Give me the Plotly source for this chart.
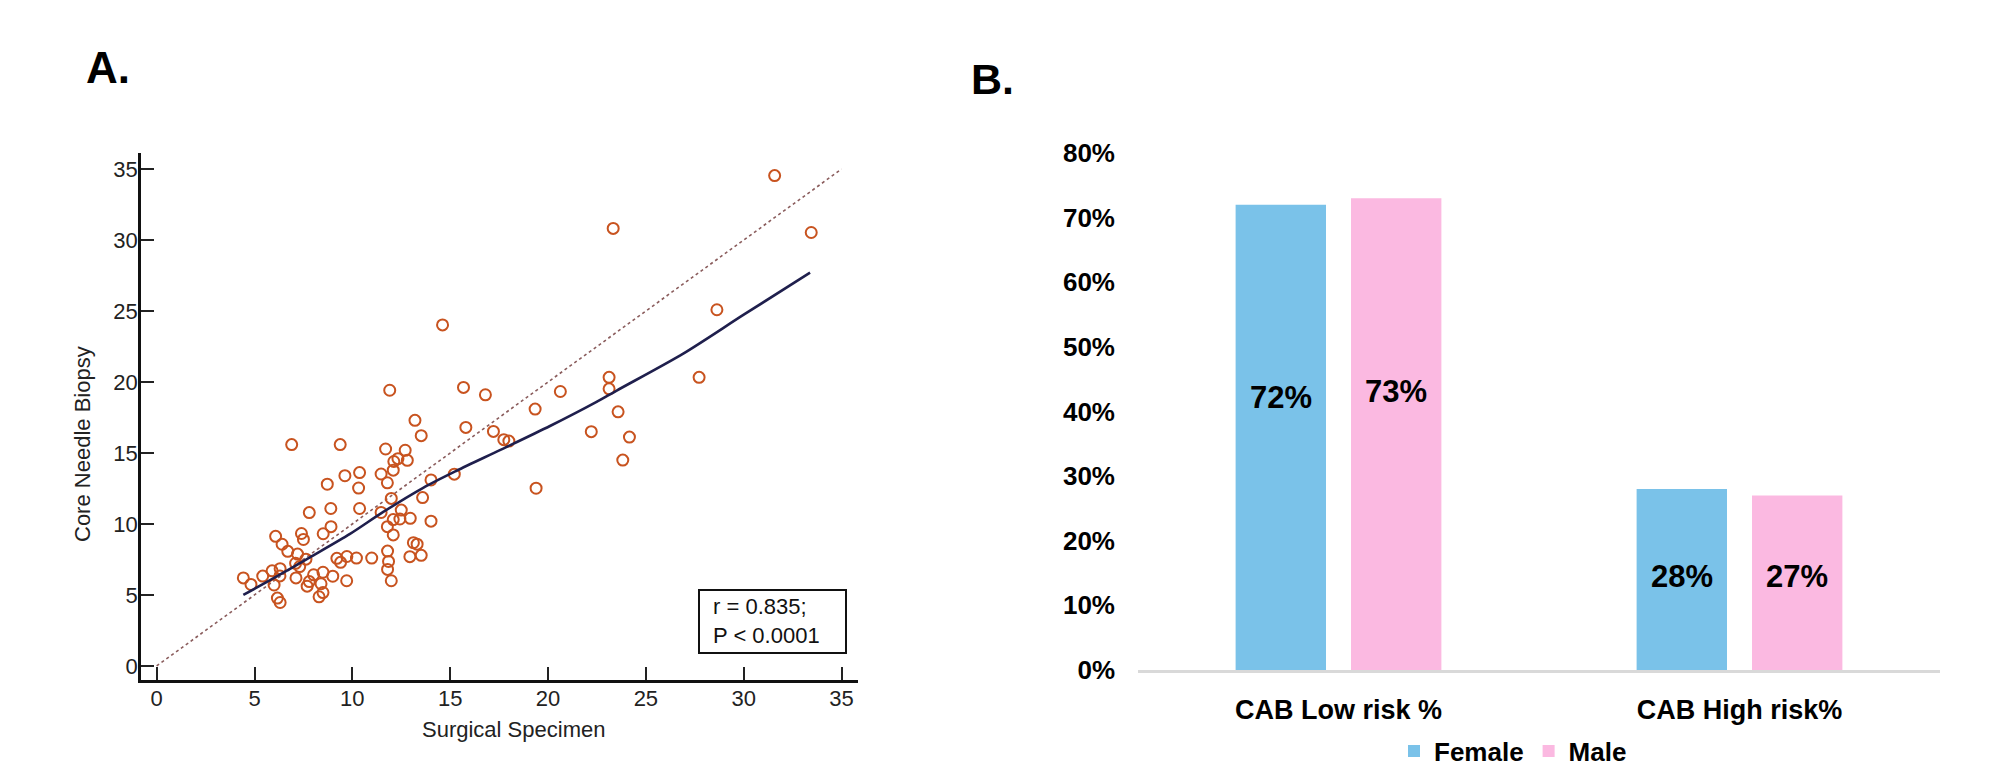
import plotly.graph_objects as go

# ---------------- Panel A data ----------------
surgical = [4.43, 4.82, 5.42, 5.90, 6.00, 6.08, 6.17, 6.31, 6.30, 6.31, 6.41, 6.70, 6.90, 7.12, 7.20, 7.10,
            7.31, 7.40, 7.50, 7.63, 7.69, 7.80, 7.80, 8.02, 8.30, 8.40, 8.50, 8.50, 8.51, 8.72, 8.91, 8.90,
            9.00, 9.21, 9.38, 9.40, 9.62, 9.71, 9.72, 10.21, 10.32, 10.37, 10.37, 10.99, 11.47, 11.47, 11.70,
            11.79, 11.79, 11.80, 11.85, 11.80, 11.91, 11.99, 11.99, 12.09, 12.09, 12.09, 12.12, 12.33, 12.43,
            12.50, 12.70, 12.81, 12.96, 12.94, 13.12, 13.20, 13.31, 13.52, 13.52, 13.59, 14.02, 14.02, 14.61,
            15.21, 15.68, 15.80, 16.80, 17.21, 17.74, 18.00, 19.34, 19.39, 20.63, 22.21, 23.12, 23.12, 23.33,
            23.58, 23.82, 24.16, 27.72, 28.63, 31.58, 33.45]
biopsy = [6.20, 5.74, 6.33, 6.70, 5.70, 9.13, 4.78, 4.47, 6.34, 6.85, 8.57, 8.07, 15.59, 6.20, 7.88, 7.23,
          7.00, 9.33, 8.91, 7.52, 5.62, 5.94, 10.80, 6.42, 4.87, 5.79, 5.17, 6.60, 9.31, 12.80, 9.81, 11.09,
          6.32, 7.58, 15.59, 7.30, 13.40, 6.00, 7.71, 7.60, 12.53, 13.62, 11.09, 7.60, 13.52, 10.81, 15.28,
          12.90, 9.81, 8.09, 7.36, 6.80, 19.42, 11.80, 6.00, 9.23, 10.31, 13.79, 14.40, 14.60, 10.35,
          10.98, 15.19, 14.48, 10.40, 7.70, 8.68, 17.30, 8.58, 7.79, 16.22, 11.86, 13.10, 10.20, 24.02,
          13.51, 19.62, 16.80, 19.10, 16.52, 15.94, 15.84, 18.09, 12.52, 19.33, 16.50, 20.33, 19.52, 30.82,
          17.90, 14.50, 16.12, 20.33, 25.09, 34.54, 30.53]
loess_x = [4.43, 6.0, 7.83, 9.88, 11.58, 13.62, 15.33, 17.54, 20.1, 22.48, 23.51, 26.91, 30.0, 33.39]
loess_y = [5.0, 6.2, 7.65, 9.3, 10.85, 12.55, 13.75, 15.2, 16.9, 18.6, 19.4, 22.0, 24.74, 27.7]
identity = [0, 35]
a_ticks = [0, 5, 10, 15, 20, 25, 30, 35]
stat_lines = ["r = 0.835;", "P < 0.0001"]

# ---------------- Panel B data ----------------
categories = ["CAB Low risk %", "CAB High risk%"]
female = [0.72, 0.28]
male = [0.73, 0.27]

FONT = "Liberation Sans, Arial, sans-serif"
BODY = 8                      # default page margin around the plot div
FW, FH = 2013 - 2 * BODY, 777 - 2 * BODY


def px_x(p):
    """window pixel x -> paper fraction"""
    return (p - BODY) / FW


def px_y(p):
    """window pixel y (from top) -> paper fraction"""
    return (FH - (p - BODY)) / FH


fig = go.Figure()

fig.add_trace(go.Scatter(x=identity, y=identity, mode="lines",
                         line=dict(color="#8a5c5c", width=1.6, dash="dot"),
                         showlegend=False, xaxis="x", yaxis="y", hoverinfo="skip"))
fig.add_trace(go.Scatter(x=surgical, y=biopsy, mode="markers",
                         marker=dict(symbol="circle-open", size=11, color="#C8531F",
                                     line=dict(width=2, color="#C8531F")),
                         showlegend=False, xaxis="x", yaxis="y"))
fig.add_trace(go.Scatter(x=loess_x, y=loess_y, mode="lines",
                         line=dict(color="#1f1f4d", width=2.6, shape="spline", smoothing=0.8),
                         showlegend=False, xaxis="x", yaxis="y"))

fig.add_trace(go.Bar(x=categories, y=female, name="Female",
                     marker=dict(color="#7AC2E9", line=dict(width=0)),
                     xaxis="x2", yaxis="y2"))
fig.add_trace(go.Bar(x=categories, y=male, name="Male",
                     marker=dict(color="#FBB9E1", line=dict(width=0)),
                     xaxis="x2", yaxis="y2"))

axA = dict(showgrid=False, zeroline=False, showline=True, linecolor="#111111", linewidth=2.5,
           ticks="inside", ticklen=13, tickwidth=1.5, tickcolor="#222222", automargin=False,
           tickfont=dict(family=FONT, size=22, color="#222222"))

fig.update_layout(
    template="none",
    width=FW, height=FH, autosize=False,
    margin=dict(l=0, r=0, t=0, b=0, pad=0, autoexpand=False),
    paper_bgcolor="white", plot_bgcolor="white",
    font=dict(family=FONT, color="black"),
    xaxis=dict(domain=[px_x(141), px_x(858)], range=[-0.8, 35.84], tickvals=a_ticks,
               anchor="y", ticklabelstandoff=-3, **axA),
    yaxis=dict(domain=[px_y(680), px_y(153)], range=[-0.99, 36.13], tickvals=a_ticks,
               anchor="x", ticklabelstandoff=-4, **axA),
    xaxis2=dict(domain=[px_x(1138), px_x(1940)], anchor="y2", showgrid=False, zeroline=False,
                showline=True, linecolor="#D9D9D9", linewidth=3, ticks="", automargin=False,
                tickfont=dict(family=FONT, size=27, color="black", weight="bold"),
                ticklabelstandoff=14),
    yaxis2=dict(domain=[px_y(670), px_y(153)], anchor="x2", range=[0, 0.8], dtick=0.1,
                tickformat=".0%", showgrid=False, zeroline=False, showline=False, ticks="",
                automargin=False,
                tickfont=dict(family=FONT, size=26, color="black", weight="bold"),
                ticklabelstandoff=22),
    barmode="group", bargap=0.4245, bargroupgap=0.2166,
    legend=dict(orientation="h", x=px_x(1513), xanchor="center", y=px_y(751), yanchor="middle",
                font=dict(family=FONT, size=26, color="black", weight="bold"),
                bgcolor="rgba(0,0,0,0)", itemclick=False, itemdoubleclick=False),
    showlegend=True,
)

annotations = [
    dict(text="A.", x=px_x(108), y=px_y(68), xref="paper", yref="paper", showarrow=False,
         xanchor="center", yanchor="middle", font=dict(family=FONT, size=44, color="black", weight="bold")),
    dict(text="B.", x=px_x(992), y=px_y(79), xref="paper", yref="paper", showarrow=False,
         xanchor="center", yanchor="middle", font=dict(family=FONT, size=43, color="black", weight="bold")),
    dict(text="Surgical Specimen", x=px_x(513), y=px_y(729), xref="paper", yref="paper", showarrow=False,
         xanchor="center", yanchor="middle", font=dict(family=FONT, size=22, color="#222222")),
    dict(text="Core Needle Biopsy", x=px_x(82), y=px_y(444), xref="paper", yref="paper", showarrow=False,
         xanchor="center", yanchor="middle", textangle=-90, font=dict(family=FONT, size=22, color="#222222")),
    dict(text="<br>".join(stat_lines), x=px_x(711), y=px_y(621), xref="paper", yref="paper",
         showarrow=False, xanchor="left", yanchor="middle", align="left",
         font=dict(family=FONT, size=22, color="#111111")),
]

# value labels on the bars (label offsets are pure styling)
bar_label_xshift = {"Female": -57.7, "Male": 57.7}
bar_label_yshift = {"Female": [40, 3], "Male": [43, 6]}
for name, vals in (("Female", female), ("Male", male)):
    for i, (cat, v) in enumerate(zip(categories, vals)):
        annotations.append(dict(text=f"{v:.0%}", x=cat, y=v / 2, xref="x2", yref="y2",
                                showarrow=False, xanchor="center", yanchor="middle",
                                xshift=bar_label_xshift[name], yshift=bar_label_yshift[name][i],
                                font=dict(family=FONT, size=31, color="black", weight="bold")))
fig.update_layout(annotations=annotations)

fig.add_shape(type="rect", xref="paper", yref="paper",
              x0=px_x(699), x1=px_x(846), y0=px_y(653), y1=px_y(590),
              line=dict(color="#111111", width=2), fillcolor="rgba(0,0,0,0)")

fig.write_html("out.html")
